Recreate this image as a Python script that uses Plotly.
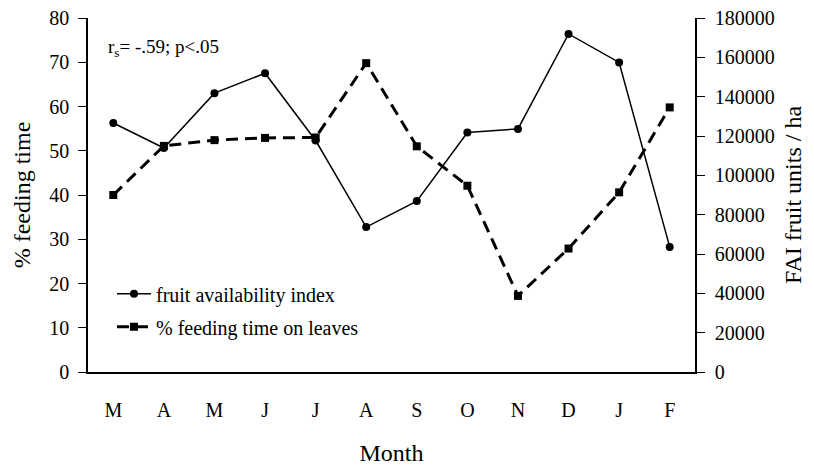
import plotly.graph_objects as go

months = ["M", "A", "M", "J", "J", "A", "S", "O", "N", "D", "J", "F"]
fai = [126600, 113900, 141800, 151900, 117700, 73700, 86900, 121800, 123600, 171900, 157400, 63600]
leaves = [40.0, 51.1, 52.4, 52.9, 53.0, 69.8, 51.0, 42.1, 17.2, 27.9, 40.6, 59.8]
left_ticks = list(range(0, 81, 10))
right_ticks = list(range(0, 180001, 20000))

idx = list(range(len(months)))
bounds = [i - 0.5 for i in range(len(months) + 1)]

FONT = "Liberation Serif"
fig = go.Figure()
fig.add_trace(go.Scatter(
    x=idx, y=fai, name="fruit availability index", mode="lines+markers",
    line=dict(color="black", width=1.5),
    marker=dict(symbol="circle", size=8, color="black"),
    yaxis="y2", legendgroup="a"))
fig.add_trace(go.Scatter(
    x=idx, y=leaves, name="% feeding time on leaves", mode="lines+markers",
    line=dict(color="black", width=3, dash="12px,7px"),
    marker=dict(symbol="square", size=8, color="black"),
    yaxis="y", legendgroup="b"))

tick = dict(tickcolor="black", tickwidth=1.2, ticklen=8)
base = dict(showgrid=False, zeroline=False, automargin=False)

fig.update_layout(
    width=806, height=461,
    margin=dict(l=80, r=119, t=10, b=97),
    paper_bgcolor="white", plot_bgcolor="white",
    font=dict(family=FONT, size=20, color="black"),
    showlegend=True,
    legend=dict(x=0.0395, y=0.276, xanchor="left", yanchor="top",
                bgcolor="rgba(0,0,0,0)", tracegroupgap=4, itemwidth=34,
                font=dict(size=20, family=FONT)),
    xaxis=dict(range=[-0.5, 11.5], tickmode="array", tickvals=idx, ticktext=months,
               ticks="", showline=True, linecolor="black", linewidth=1.5,
               ticklabelstandoff=19,
               title=dict(text="Month", standoff=24), **base),
    xaxis2=dict(overlaying="x", anchor="y", side="bottom", range=[-0.5, 11.5],
                tickmode="array", tickvals=bounds, ticks="outside",
                showticklabels=False, showline=False, **tick, **base),
    xaxis3=dict(overlaying="x", anchor="y", side="bottom", range=[-0.5, 11.5],
                tickmode="array", tickvals=bounds, ticks="inside",
                showticklabels=False, showline=False, **tick, **base),
    yaxis=dict(range=[0, 80], tickmode="array", tickvals=left_ticks, ticks="outside",
               showline=True, linecolor="black", linewidth=1.5, ticklabelstandoff=5,
               ticklabeloverflow="allow",
               title=dict(text="% feeding time", standoff=12), **tick, **base),
    yaxis2=dict(overlaying="y", side="right", anchor="x", range=[0, 180000],
                tickmode="array", tickvals=right_ticks, tickformat="d", ticks="outside",
                showline=True, linecolor="black", linewidth=1.5, ticklabelstandoff=6,
                ticklabeloverflow="allow",
                title=dict(text="FAI fruit units / ha", standoff=10), **tick, **base),
    yaxis3=dict(overlaying="y", side="left", anchor="x", range=[0, 80],
                tickmode="array", tickvals=left_ticks, ticks="inside",
                showticklabels=False, showline=False, **tick, **base),
    yaxis4=dict(overlaying="y", side="right", anchor="x", range=[0, 180000],
                tickmode="array", tickvals=right_ticks, ticks="inside",
                showticklabels=False, showline=False, **tick, **base),
    annotations=[dict(text="r<sub>s</sub>= -.59; p&lt;.05", x=0.030, y=0.915,
                      xref="paper", yref="paper", xanchor="left", yanchor="middle",
                      showarrow=False, font=dict(size=19, family=FONT))],
)

fig.write_html("out.html")
